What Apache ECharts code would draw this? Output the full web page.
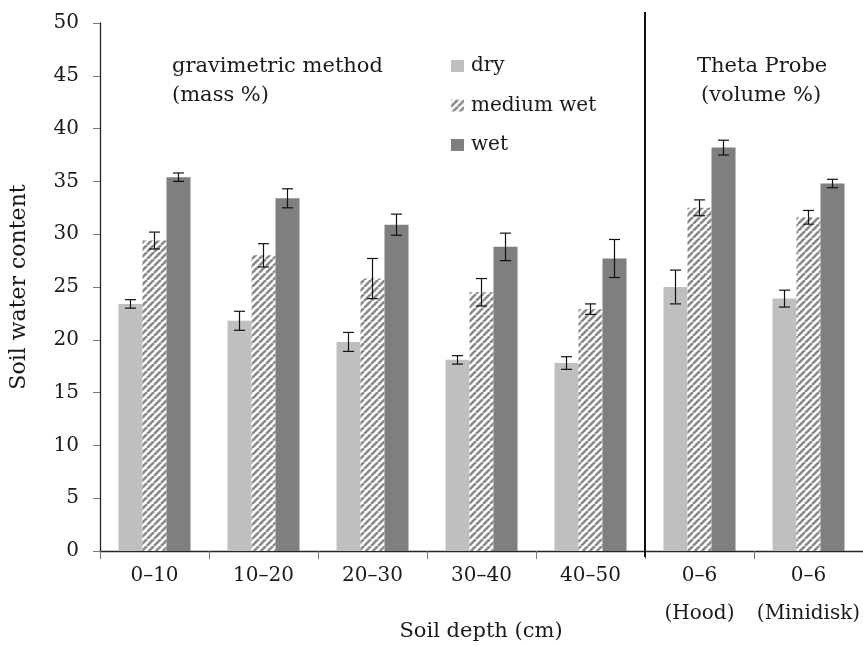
<!DOCTYPE html>
<html>
<head>
<meta charset="utf-8">
<script src="https://cdn.jsdelivr.net/npm/echarts@6/dist/echarts.min.js"></script>
<style>
html,body{margin:0;padding:0;background:#fff;}
#chart{width:863px;height:646px;}
</style>
</head>
<body>
<div id="chart"></div>
<script>
// ---- data ----
const categories = ['0–10', '10–20', '20–30', '30–40', '40–50', '0–6\n(Hood)', '0–6\n(Minidisk)'];
const seriesNames = ['dry', 'medium wet', 'wet'];
const dryValues    = [23.4, 21.8, 19.8, 18.1, 17.8, 25.0, 23.9];
const dryErrors    = [0.4, 0.9, 0.9, 0.4, 0.6, 1.6, 0.8];
const mediumValues = [29.4, 28.0, 25.8, 24.5, 22.9, 32.5, 31.6];
const mediumErrors = [0.8, 1.1, 1.9, 1.3, 0.5, 0.75, 0.65];
const wetValues    = [35.4, 33.4, 30.9, 28.8, 27.7, 38.2, 34.8];
const wetErrors    = [0.4, 0.9, 1.0, 1.3, 1.8, 0.7, 0.4];
const yTicks = { min: 0, max: 50, interval: 5 };

// ---- styles ----
const FONT = 'DejaVu Serif';
const TXT = '#1a1a1a';
const AX = '#262626';
const BAR_W = 24;

function hatch() {
  const s = 7;
  const c = document.createElement('canvas');
  c.width = s; c.height = s;
  const g = c.getContext('2d');
  g.fillStyle = '#ffffff';
  g.fillRect(0, 0, s, s);
  g.strokeStyle = '#8a8a8a';
  g.lineWidth = 2.6;
  for (let k = -1; k <= 1; k++) {
    g.beginPath();
    g.moveTo(k * s, s);
    g.lineTo(k * s + s, 0);
    g.stroke();
  }
  return { image: c, repeat: 'repeat' };
}

const values = [dryValues, mediumValues, wetValues];
const errors = [dryErrors, mediumErrors, wetErrors];
const colors = ['#bfbfbf', hatch(), '#7f7f7f'];

const series = [];
values.forEach((vals, i) => {
  series.push({
    name: seriesNames[i],
    type: 'bar',
    data: vals,
    barWidth: BAR_W,
    barGap: '0%',
    itemStyle: { color: colors[i] },
    z: 2
  });
});
values.forEach((vals, i) => {
  series.push({
    name: seriesNames[i] + ' error',
    type: 'custom',
    z: 5,
    silent: true,
    data: vals.map((v, j) => [j, v, errors[i][j]]),
    renderItem: function (params, api) {
      const idx = api.value(0), v = api.value(1), e = api.value(2);
      const hi = api.coord([idx, v + e]);
      const lo = api.coord([idx, v - e]);
      const x = hi[0] + (i - 1) * BAR_W;
      const cap = 5.5;
      const st = { stroke: '#111', lineWidth: 1.2 };
      return {
        type: 'group',
        children: [
          { type: 'line', shape: { x1: x, y1: hi[1], x2: x, y2: lo[1] }, style: st },
          { type: 'line', shape: { x1: x - cap, y1: hi[1], x2: x + cap, y2: hi[1] }, style: st },
          { type: 'line', shape: { x1: x - cap, y1: lo[1], x2: x + cap, y2: lo[1] }, style: st }
        ]
      };
    }
  });
});

const chart = echarts.init(document.getElementById('chart'), null, { renderer: 'canvas' });
const option = {
  animation: false,
  backgroundColor: '#fff',
  textStyle: { fontFamily: FONT, color: TXT },
  grid: { left: 99, right: -4, top: 23, bottom: 95, containLabel: false },
  legend: {
    data: seriesNames,
    orient: 'vertical',
    left: 446,
    top: 51,
    itemWidth: 13,
    itemHeight: 12,
    itemGap: 19.5,
    icon: 'rect',
    textStyle: { fontFamily: FONT, fontSize: 20, color: TXT, padding: [0, 0, 0, 2] }
  },
  xAxis: {
    type: 'category',
    data: categories,
    axisLine: { lineStyle: { color: AX, width: 1.3 } },
    axisTick: { show: true, length: 8, lineStyle: { color: '#777' } },
    axisLabel: { fontFamily: FONT, fontSize: 20, color: TXT, margin: 6, lineHeight: 38, interval: 0 },
    splitLine: { show: false }
  },
  yAxis: {
    type: 'value',
    min: yTicks.min, max: yTicks.max, interval: yTicks.interval,
    name: 'Soil water content',
    nameLocation: 'middle',
    nameGap: 70,
    nameTextStyle: { fontFamily: FONT, fontSize: 22, color: TXT },
    axisLine: { show: true, lineStyle: { color: AX, width: 1.3 } },
    axisTick: { show: true, length: 7, lineStyle: { color: '#777' } },
    axisLabel: { fontFamily: FONT, fontSize: 20, color: TXT, margin: 21 },
    splitLine: { show: false }
  },
  series: series
};
chart.setOption(option);

// decorations placed from the axis scales
const xb = (chart.convertToPixel({ xAxisIndex: 0 }, 4) + chart.convertToPixel({ xAxisIndex: 0 }, 5)) / 2;
const yTop = chart.convertToPixel({ yAxisIndex: 0 }, yTicks.max);
const yZero = chart.convertToPixel({ yAxisIndex: 0 }, 0);
const txt = (t, x, y, align) => ({
  type: 'text', x: x, y: y,
  style: { text: t, font: '21px "' + FONT + '"', fill: TXT, textAlign: align || 'left', textVerticalAlign: 'middle' }
});
chart.setOption({
  graphic: [
    { type: 'line', shape: { x1: xb, y1: yTop - 11, x2: xb, y2: yZero + 6 }, style: { stroke: '#111', lineWidth: 2 }, z: 10 },
    txt('gravimetric method', 172, 67),
    txt('(mass %)', 172, 96),
    txt('Theta Probe', 697, 67),
    txt('(volume %)', 701, 96),
    txt('Soil depth (cm)', 481, 632, 'center')
  ]
});
</script>
</body>
</html>
